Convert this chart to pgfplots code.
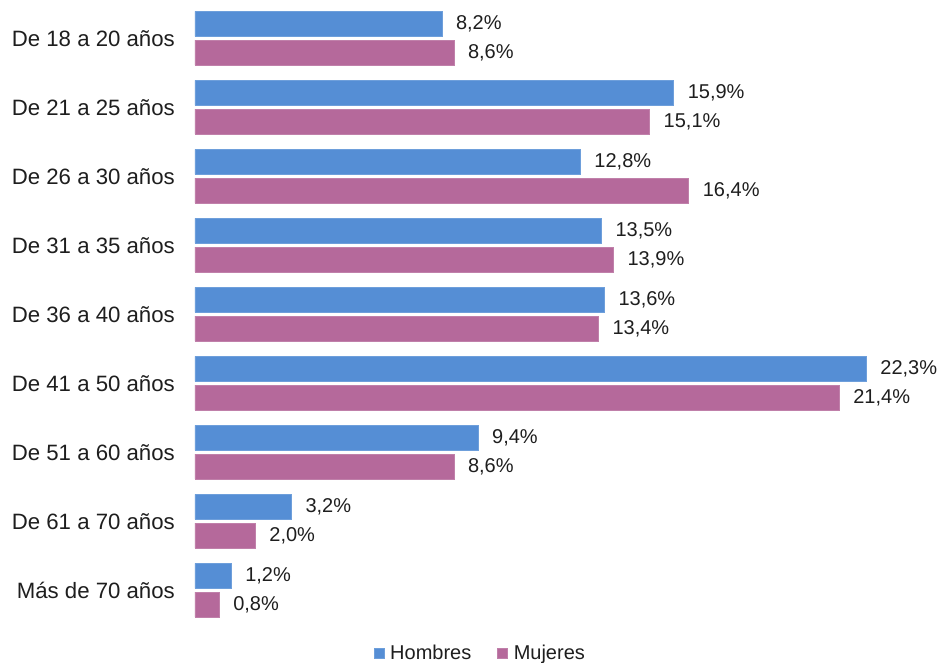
\documentclass[border=0pt]{standalone}
\usepackage{fontspec}
\setmainfont{Liberation Sans}
\usepackage{pgfplots}
\pgfplotsset{compat=1.18}
\definecolor{hblue}{RGB}{85,142,213}
\definecolor{mpink}{RGB}{181,105,155}
\definecolor{txt}{RGB}{30,30,30}
\begin{document}
\begin{tikzpicture}
\begin{axis}[
  scale only axis,
  width=722.4pt, height=621pt,
  xmin=0, xmax=24,
  ymin=-0.5, ymax=8.5,
  xbar,
  bar width=25pt,
  axis line style={draw=none},
  hide x axis,
  ytick={0,...,8},
  yticklabels={Más de 70 años,De 61 a 70 años,De 51 a 60 años,De 41 a 50 años,De 36 a 40 años,De 31 a 35 años,De 26 a 30 años,De 21 a 25 años,De 18 a 20 años},
  major tick length=0pt,
  yticklabel style={font=\fontsize{22.2}{26}\selectfont, text=txt, inner sep=0pt, xshift=-20pt},
  clip=false,
  nodes near coords={\pgfmathprintnumber[fixed,fixed zerofill,precision=1,use comma,assume math mode=true]{\pgfplotspointmeta}\%},
  nodes near coords style={anchor=west, inner sep=0pt, xshift=14pt, font=\fontsize{20}{24}\selectfont, text=txt},
  legend columns=2,
  legend style={at={(0.395,-0.045)}, anchor=center, draw=none, fill=none,
    font=\fontsize{20}{24}\selectfont, text=txt,
    /tikz/every odd column/.append style={column sep=4pt},
    /tikz/every even column/.append style={column sep=24pt},
    inner sep=0pt},
  legend image code/.code={\fill[#1] (0pt,-5pt) rectangle (10pt,5pt);},
]
\addplot[fill=hblue, draw=hblue!85!white, bar shift=14.4pt] coordinates {
  (8.2,8) (15.9,7) (12.8,6) (13.5,5) (13.6,4) (22.3,3) (9.4,2) (3.2,1) (1.2,0)};
\addlegendentry{Hombres}
\addplot[fill=mpink, draw=mpink!85!white, bar shift=-14.4pt] coordinates {
  (8.6,8) (15.1,7) (16.4,6) (13.9,5) (13.4,4) (21.4,3) (8.6,2) (2.0,1) (0.8,0)};
\addlegendentry{Mujeres}
\end{axis}
\path ([shift={(-195pt,3.8pt)}]current axis.north west) rectangle ([shift={(21.6pt,-36.2pt)}]current axis.south east);
\end{tikzpicture}
\end{document}
